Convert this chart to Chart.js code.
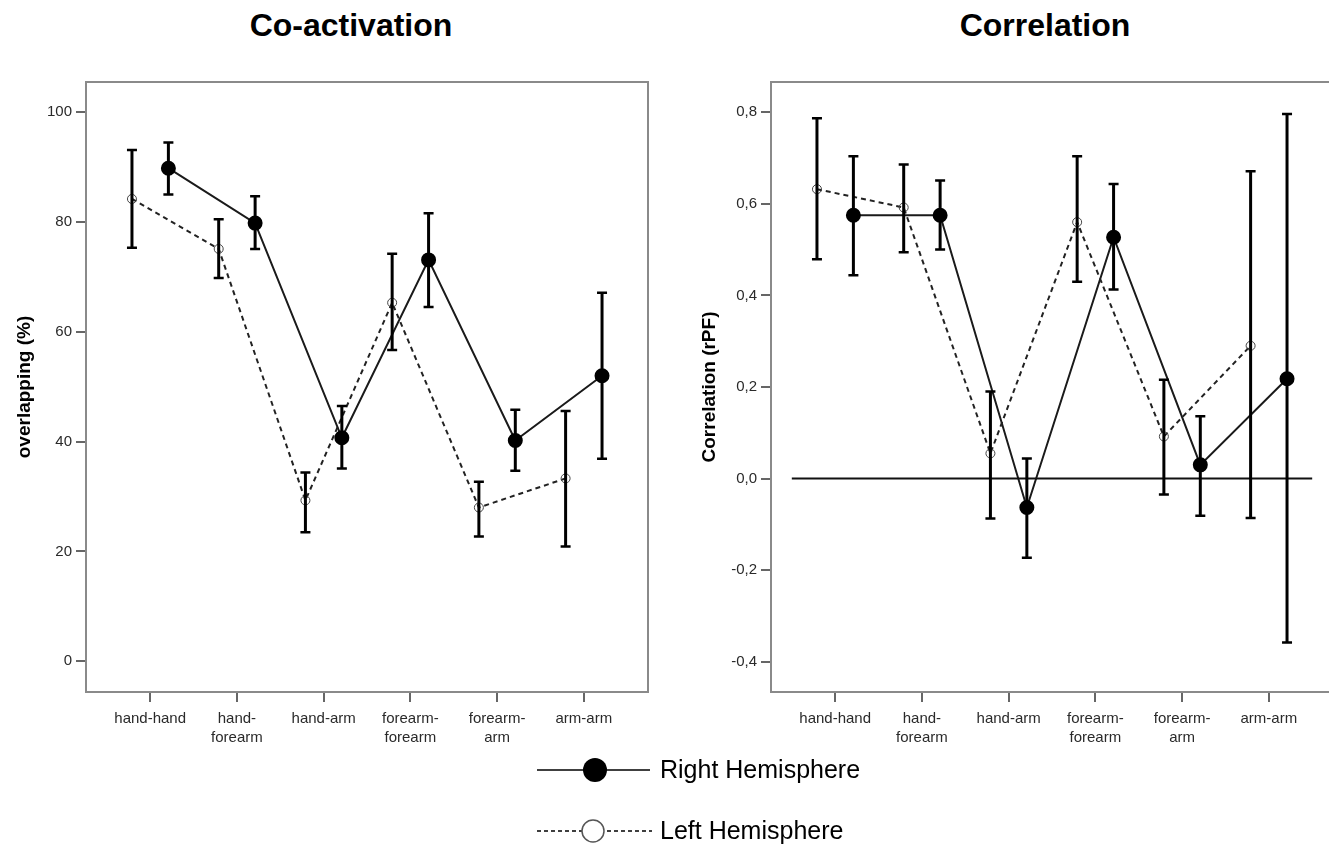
<!DOCTYPE html>
<html>
<head>
<meta charset="utf-8">
<script src="https://cdn.jsdelivr.net/npm/chart.js@4"></script>
<style>
body { margin: 0; background: #fff; width: 1329px; height: 849px; overflow: hidden; position: relative; font-family: "Liberation Sans", Arial, sans-serif; }
.title { position: absolute; top: 7px; font-size: 32px; font-weight: bold; color: #000; transform: translateX(-50%); white-space: nowrap; }
.chartBox { position: absolute; top: 0; }
.legendText { position: absolute; left: 660px; font-size: 25px; color: #000; line-height: 30px; white-space: nowrap; }
</style>
</head>
<body>
<div class="title" style="left:351px">Co-activation</div>
<div class="title" style="left:1045px">Correlation</div>
<canvas id="chartCoact" class="chartBox" style="left:0px" width="665" height="760"></canvas>
<canvas id="chartCorr" class="chartBox" style="left:685px" width="665" height="760"></canvas>
<svg style="position:absolute;left:535px;top:755px" width="120" height="90">
  <line x1="2" y1="15" x2="115" y2="15" stroke="#000" stroke-width="1.5"/>
  <circle cx="60" cy="15" r="12" fill="#000"/>
  <line x1="2" y1="76" x2="117" y2="76" stroke="#000" stroke-width="1.4" stroke-dasharray="4,3"/>
  <circle cx="58" cy="76" r="11" fill="#fff" stroke="#555" stroke-width="1.5"/>
</svg>
<div class="legendText" style="top:754px">Right Hemisphere</div>
<div class="legendText" style="top:815px">Left Hemisphere</div>
<script>
var categories = [["hand-hand"], ["hand-", "forearm"], ["hand-arm"], ["forearm-", "forearm"], ["forearm-", "arm"], ["arm-arm"]];

// Co-activation: overlapping (%)
var coactRight = [89.8, 79.8, 40.7, 73.1, 40.2, 52.0];
var coactRightLo = [85.0, 75.1, 35.1, 64.5, 34.7, 36.9];
var coactRightHi = [94.5, 84.7, 46.5, 81.6, 45.8, 67.1];
var coactLeft = [84.2, 75.1, 29.3, 65.3, 28.0, 33.3];
var coactLeftLo = [75.3, 69.8, 23.5, 56.7, 22.7, 20.9];
var coactLeftHi = [93.1, 80.5, 34.4, 74.2, 32.7, 45.6];

// Correlation (rPF)
var corrRight = [0.575, 0.575, -0.063, 0.527, 0.030, 0.218];
var corrRightLo = [0.444, 0.500, -0.173, 0.413, -0.081, -0.358];
var corrRightHi = [0.704, 0.651, 0.044, 0.643, 0.136, 0.796];
var corrLeft = [0.632, 0.592, 0.055, 0.560, 0.092, 0.290];
var corrLeftLo = [0.479, 0.494, -0.087, 0.430, -0.035, -0.086];
var corrLeftHi = [0.787, 0.686, 0.190, 0.704, 0.216, 0.671];

var zeroLineX = [0.5, 6.5];
var dodge = 0.21;

function toPoints(vals, shift) {
    return vals.map((v, i) => ({ x: i + 1 + shift, y: v }));
}

// error bars + frame around plot area
var errorBarPlugin = {
    id: 'errorBars',
    afterDatasetsDraw: function (chart) {
        var ctx = chart.ctx;
        var xs = chart.scales.x, ys = chart.scales.y;
        chart.data.datasets.forEach(ds => {
            if (!ds.lo) return;
            ds.data.forEach((p, i) => {
                var px = xs.getPixelForValue(p.x);
                var top = ys.getPixelForValue(ds.hi[i]);
                var bot = ys.getPixelForValue(ds.lo[i]);
                ctx.save();
                ctx.strokeStyle = '#000';
                ctx.lineWidth = 3;
                ctx.beginPath();
                ctx.moveTo(px, top);
                ctx.lineTo(px, bot);
                ctx.stroke();
                ctx.lineWidth = 2.5;
                ctx.beginPath();
                ctx.moveTo(px - 5, top);
                ctx.lineTo(px + 5, top);
                ctx.moveTo(px - 5, bot);
                ctx.lineTo(px + 5, bot);
                ctx.stroke();
                ctx.restore();
            });
        });
    },
    afterDraw: function (chart) {
        var a = chart.chartArea, ctx = chart.ctx;
        ctx.save();
        ctx.strokeStyle = '#8a8a8a';
        ctx.lineWidth = 2;
        ctx.strokeRect(a.left, a.top, a.right - a.left, a.bottom - a.top);
        ctx.restore();
    }
};

function makeChart(id, yTitle, yMin, yMax, step, fmt, right, rightLo, rightHi, left, leftLo, leftHi, withZero) {
    var datasets = [
        {
            data: toPoints(left, -dodge), lo: leftLo, hi: leftHi,
            borderColor: '#222', borderWidth: 2, borderDash: [5, 4],
            pointStyle: 'circle', pointRadius: 4.5, pointBorderWidth: 1,
            pointBackgroundColor: 'rgba(0,0,0,0)', pointBorderColor: '#444'
        },
        {
            data: toPoints(right, dodge), lo: rightLo, hi: rightHi,
            borderColor: '#1a1a1a', borderWidth: 2,
            pointRadius: 6.5, pointBackgroundColor: '#000', pointBorderColor: '#000'
        }
    ];
    if (withZero) {
        datasets.unshift({
            data: zeroLineX.map(x => ({ x: x, y: 0 })),
            borderColor: '#111', borderWidth: 2, pointRadius: 0
        });
    }
    return new Chart(id, {
        type: 'line',
        data: { datasets: datasets },
        plugins: [errorBarPlugin],
        options: {
            responsive: false,
            animation: false,
            layout: { padding: { left: 0, top: 82, right: 17, bottom: 0 } },
            plugins: { legend: { display: false }, tooltip: { enabled: false } },
            scales: {
                x: {
                    type: 'linear',
                    min: 0.26,
                    max: 6.74,
                    afterBuildTicks: function (scale) {
                        scale.ticks = categories.map((c, i) => ({ value: i + 1 }));
                    },
                    afterFit: function (scale) { scale.height = 68; },
                    ticks: {
                        autoSkip: false,
                        maxRotation: 0,
                        padding: 7,
                        color: '#2a2a2a',
                        font: { family: 'Liberation Sans', size: 15, lineHeight: 1.3 },
                        callback: function (v) { return categories[Math.round(v) - 1]; }
                    },
                    grid: { drawOnChartArea: false, tickLength: 10, color: '#666', lineWidth: 2 },
                    border: { display: true, color: '#777', width: 2 }
                },
                y: {
                    min: yMin,
                    max: yMax,
                    afterFit: function (scale) { scale.width = 86; },
                    ticks: {
                        stepSize: step,
                        includeBounds: false,
                        padding: 4,
                        color: '#2a2a2a',
                        font: { family: 'Liberation Sans', size: 15 },
                        callback: fmt
                    },
                    grid: { drawOnChartArea: false, tickLength: 10, color: '#666', lineWidth: 2 },
                    border: { display: true, color: '#777', width: 2 },
                    title: {
                        display: true,
                        text: yTitle,
                        color: '#000',
                        padding: { top: 13, bottom: 0 },
                        font: { family: 'Liberation Sans', size: 19, weight: 'bold' }
                    }
                }
            }
        }
    });
}

makeChart('chartCoact', 'overlapping (%)', -5.6, 105.5, 20, v => v,
    coactRight, coactRightLo, coactRightHi, coactLeft, coactLeftLo, coactLeftHi, false);
makeChart('chartCorr', 'Correlation (rPF)', -0.466, 0.866, 0.2, v => v.toFixed(1).replace('.', ','),
    corrRight, corrRightLo, corrRightHi, corrLeft, corrLeftLo, corrLeftHi, true);
</script>
</body>
</html>
